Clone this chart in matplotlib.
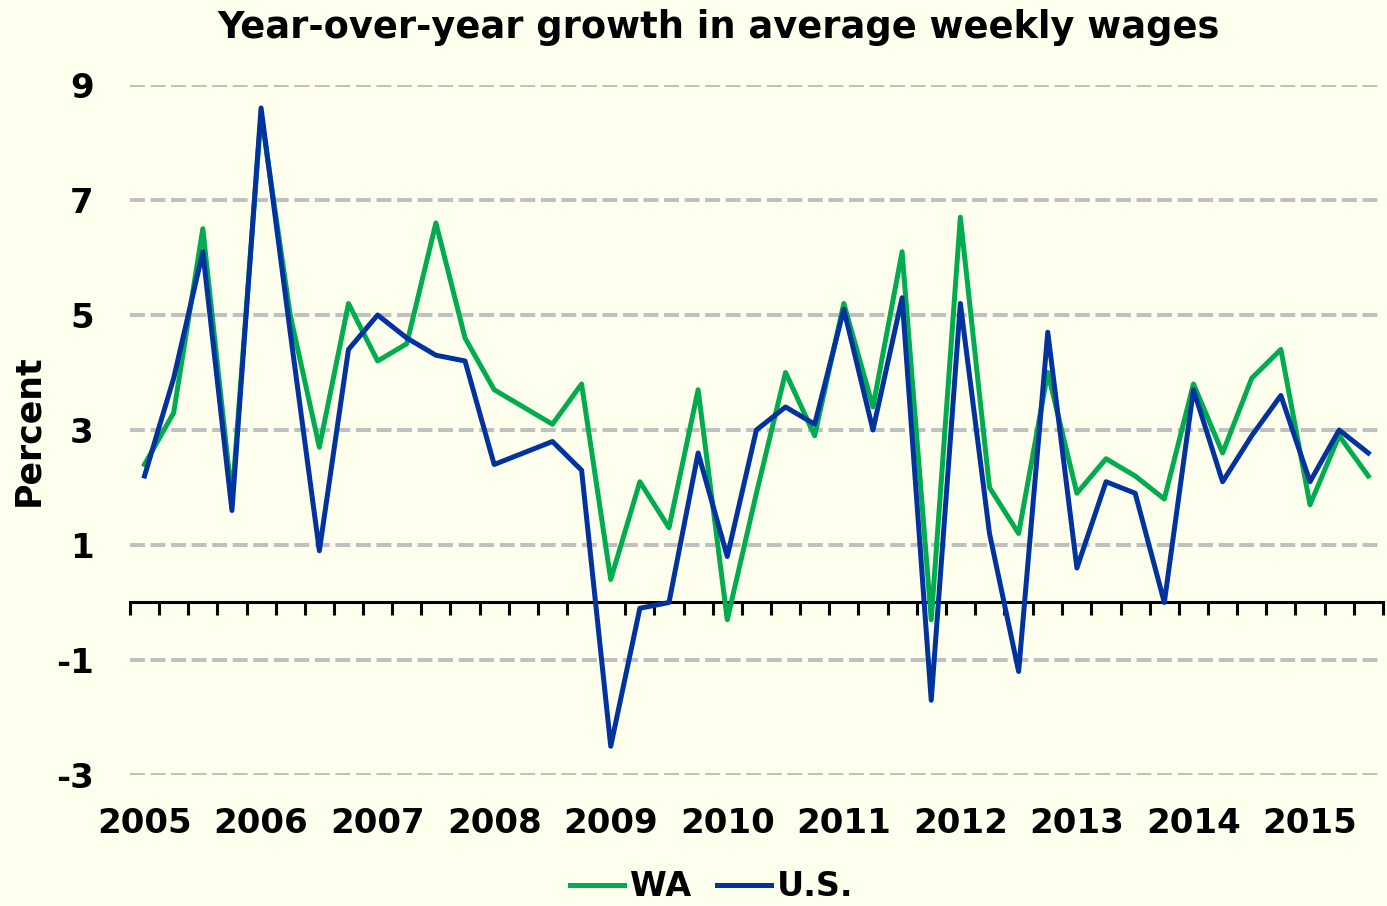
import matplotlib
matplotlib.use("Agg")
from matplotlib import pyplot as plt
import numpy as np

# quarterly, 2005Q1 .. 2015Q3
years = list(range(2005, 2016))
wa = [2.4, 3.3, 6.5, 1.8, 8.5, 5.0, 2.7, 5.2, 4.2, 4.5, 6.6, 4.6,
      3.7, 3.4, 3.1, 3.8, 0.4, 2.1, 1.3, 3.7, -0.3, 1.9, 4.0, 2.9,
      5.2, 3.4, 6.1, -0.3, 6.7, 2.0, 1.2, 4.0, 1.9, 2.5, 2.2, 1.8,
      3.8, 2.6, 3.9, 4.4, 1.7, 2.9, 2.2]
us = [2.2, 3.9, 6.1, 1.6, 8.6, 4.7, 0.9, 4.4, 5.0, 4.6, 4.3, 4.2,
      2.4, 2.6, 2.8, 2.3, -2.5, -0.1, 0.0, 2.6, 0.8, 3.0, 3.4, 3.1,
      5.1, 3.0, 5.3, -1.7, 5.2, 1.2, -1.2, 4.7, 0.6, 2.1, 1.9, 0.0,
      3.7, 2.1, 2.9, 3.6, 2.1, 3.0, 2.6]
yticks = [-3, -1, 1, 3, 5, 7, 9]

bg = '#FFFFEE'
green = '#00AC4E'
blue = '#0033A0'
plt.rcParams['font.family'] = ['DejaVu Sans']
plt.rcParams['font.weight'] = 'bold'
plt.rcParams['axes.unicode_minus'] = False

fig = plt.figure(figsize=(13.87, 9.06), dpi=100, facecolor=bg)
ax = fig.add_axes([0.0937, 0.1446, 0.9033, 0.7616], facecolor=bg)

x = np.arange(len(wa))
ax.plot(x, wa, color=green, lw=3.6, label='WA', solid_joinstyle='round', zorder=3)
ax.plot(x, us, color=blue, lw=3.6, label='U.S.', solid_joinstyle='round', zorder=4)

ax.set_xlim(-0.5, len(wa) - 0.5)
ax.set_ylim(-3, 9)

for s in ['top', 'right', 'left']:
    ax.spines[s].set_visible(False)
ax.spines['bottom'].set_position(('data', 0))
ax.spines['bottom'].set_linewidth(2.2)
ax.spines['bottom'].set_zorder(2)

ax.set_xticks(np.arange(0, len(wa), 4))
ax.set_xticklabels([str(y) for y in years])
ax.set_xticks(np.arange(-0.5, len(wa)), minor=True)
ax.tick_params(axis='x', which='major', length=0, pad=147, labelsize=24.5)
ax.tick_params(axis='x', which='minor', length=9, width=2.2, direction='out')

ax.set_yticks(yticks)
ax.tick_params(axis='y', length=0, pad=26, labelsize=24.5)
ax.yaxis.grid(True, color='#C0C0C0', lw=2.9, ls=(0, (3.7, 1.4)))
ax.set_axisbelow(True)

ax.set_ylabel('Percent', fontsize=25, fontweight='bold', labelpad=8)
fig.text(0.518, 1 - 27 / 906, 'Year-over-year growth in average weekly wages',
         ha='center', va='center', fontsize=26.5, fontweight='bold')

fig.legend(loc='center', bbox_to_anchor=(0.513, 0.021), ncol=2, frameon=False,
           fontsize=24, handlelength=1.62, handletextpad=0.18, columnspacing=0.78)

fig.savefig('out.png', dpi=100, facecolor=bg)
